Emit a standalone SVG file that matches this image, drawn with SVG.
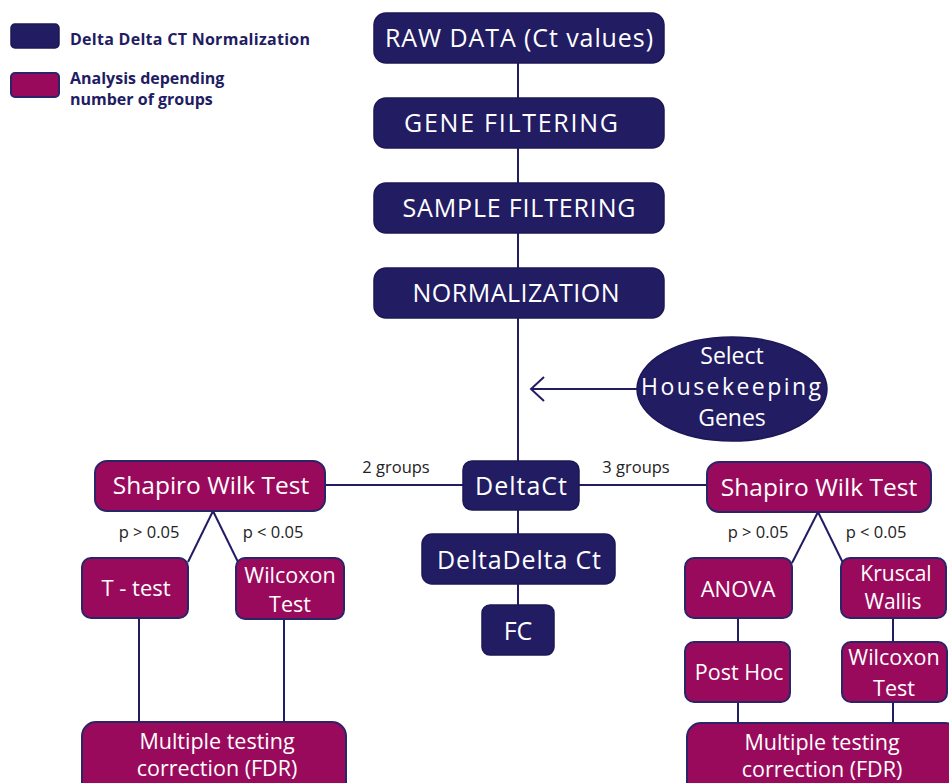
<svg xmlns="http://www.w3.org/2000/svg" width="949" height="783" viewBox="0 0 949 783">
<defs>
<style>
.nv{fill:#221c63;stroke:#1c1756;stroke-width:1.5}
.mg{fill:#9a0a5c;stroke:#2a2468;stroke-width:2}
.t{font-family:"Open Sans","Noto Sans",sans-serif;fill:#ffffff;text-anchor:middle}
.lb{font-family:"Open Sans","Noto Sans",sans-serif;fill:#222222;font-size:16.5px;text-anchor:middle}
.lg{font-family:"Open Sans","Noto Sans",sans-serif;fill:#221c63;font-size:16px;font-weight:bold}
.c{stroke:#221c63;stroke-width:2;fill:none}
</style>
</defs>
<rect width="949" height="783" fill="#ffffff"/>
<g id="legend">
<rect x="11" y="24" width="48" height="24" rx="4" class="nv"/>
<text x="70" y="45" class="lg" textLength="240">Delta Delta CT Normalization</text>
<rect x="11" y="73" width="48" height="24" rx="4" class="mg"/>
<text x="70" y="84" class="lg">Analysis depending</text>
<text x="70" y="105" class="lg">number of groups</text>
</g>
<g id="connectors">
<line x1="518" y1="63" x2="518" y2="461" class="c"/>
<line x1="637" y1="389" x2="532" y2="389" class="c"/>
<polyline points="544,377 531,389 544,401" class="c"/>
<line x1="518" y1="510" x2="518" y2="605" class="c"/>
<line x1="325" y1="485" x2="463" y2="485" class="c"/>
<line x1="579" y1="485" x2="707" y2="485" class="c"/>
<line x1="213" y1="511" x2="188" y2="562" class="c"/>
<line x1="213" y1="511" x2="238" y2="562" class="c"/>
<line x1="139" y1="618" x2="139" y2="722" class="c"/>
<line x1="284" y1="619" x2="284" y2="722" class="c"/>
<line x1="818" y1="512" x2="792" y2="563" class="c"/>
<line x1="818" y1="512" x2="843" y2="563" class="c"/>
<line x1="738" y1="618" x2="738" y2="642" class="c"/>
<line x1="893" y1="618" x2="893" y2="642" class="c"/>
<line x1="738" y1="702" x2="738" y2="723" class="c"/>
<line x1="893" y1="702" x2="893" y2="723" class="c"/>
</g>
<g id="labels">
<text x="396" y="473" class="lb">2 groups</text>
<text x="636" y="473" class="lb">3 groups</text>
<text x="149" y="538" class="lb">p &gt; 0.05</text>
<text x="273" y="538" class="lb">p &lt; 0.05</text>
<text x="758" y="538" class="lb">p &gt; 0.05</text>
<text x="876" y="538" class="lb">p &lt; 0.05</text>
</g>
<g id="raw"><rect x="374" y="13" width="290" height="50" rx="12" class="nv"/><text x="519" y="47" class="t" font-size="25" textLength="268">RAW DATA (Ct values)</text></g>
<g id="gene"><rect x="374" y="98" width="290" height="50" rx="12" class="nv"/><text x="511" y="132" class="t" font-size="25" textLength="214">GENE FILTERING</text></g>
<g id="sample"><rect x="374" y="183" width="290" height="50" rx="12" class="nv"/><text x="519" y="217" class="t" font-size="25" textLength="233">SAMPLE FILTERING</text></g>
<g id="norm"><rect x="374" y="268" width="290" height="50" rx="12" class="nv"/><text x="516" y="302" class="t" font-size="25" textLength="207">NORMALIZATION</text></g>
<g id="hk"><ellipse cx="732" cy="389" rx="95" ry="52" class="nv"/><text class="t" font-size="23"><tspan x="732" y="364">Select</tspan><tspan x="731" y="395" textLength="180">Housekeeping</tspan><tspan x="732" y="426">Genes</tspan></text></g>
<g id="deltact"><rect x="463" y="461" width="116" height="49" rx="9" class="nv"/><text x="521" y="495" class="t" font-size="25" textLength="92">DeltaCt</text></g>
<g id="ddct"><rect x="422" y="534" width="193" height="50" rx="10" class="nv"/><text x="519" y="569" class="t" font-size="25" textLength="164">DeltaDelta Ct</text></g>
<g id="fc"><rect x="482" y="605" width="72" height="50" rx="8" class="nv"/><text x="518" y="640" class="t" font-size="25">FC</text></g>
<g id="sw-left"><rect x="95" y="461" width="230" height="50" rx="12" class="mg"/><text x="211" y="494" class="t" font-size="24.5">Shapiro Wilk Test</text></g>
<g id="ttest"><rect x="82" y="558" width="106" height="60" rx="9" class="mg"/><text x="136" y="596" class="t" font-size="22">T - test</text></g>
<g id="wil-left"><rect x="236" y="558" width="108" height="61" rx="9" class="mg"/><text class="t" font-size="21.5"><tspan x="290" y="583">Wilcoxon</tspan><tspan x="290" y="612">Test</tspan></text></g>
<g id="mtc-left"><rect x="82" y="722" width="264" height="75" rx="14" class="mg"/><text class="t" font-size="21.5"><tspan x="217" y="749">Multiple testing</tspan><tspan x="217" y="776">correction (FDR)</tspan></text></g>
<g id="sw-right"><rect x="707" y="462" width="224" height="50" rx="12" class="mg"/><text x="819" y="496" class="t" font-size="24.5">Shapiro Wilk Test</text></g>
<g id="anova"><rect x="685" y="558" width="107" height="60" rx="9" class="mg"/><text x="738" y="597" class="t" font-size="22">ANOVA</text></g>
<g id="kruscal"><rect x="841" y="558" width="105" height="60" rx="9" class="mg"/><text class="t" font-size="21"><tspan x="896" y="581">Kruscal</tspan><tspan x="893" y="609">Wallis</tspan></text></g>
<g id="posthoc"><rect x="685" y="642" width="105" height="60" rx="9" class="mg"/><text x="739" y="680" class="t" font-size="21.5">Post Hoc</text></g>
<g id="wil-right"><rect x="842" y="642" width="105" height="60" rx="9" class="mg"/><text class="t" font-size="21.5"><tspan x="894" y="665">Wilcoxon</tspan><tspan x="894" y="696">Test</tspan></text></g>
<g id="mtc-right"><rect x="687" y="723" width="272" height="75" rx="14" class="mg"/><text class="t" font-size="21.5"><tspan x="822" y="750">Multiple testing</tspan><tspan x="822" y="777">correction (FDR)</tspan></text></g>
</svg>
